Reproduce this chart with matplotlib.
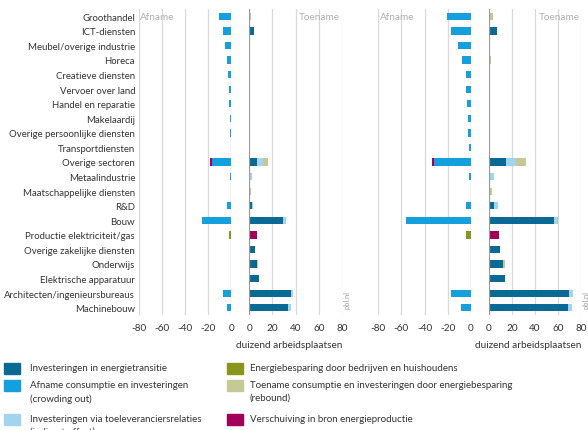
import matplotlib
matplotlib.use("Agg")
import matplotlib.pyplot as plt
from matplotlib.patches import Rectangle
import numpy as np

plt.rcParams['font.family'] = ['Lato', 'DejaVu Sans']

categories = ["Groothandel", "ICT-diensten", "Meubel/overige industrie", "Horeca",
              "Creatieve diensten", "Vervoer over land", "Handel en reparatie",
              "Makelaardij", "Overige persoonlijke diensten", "Transportdiensten",
              "Overige sectoren", "Metaalindustrie", "Maatschappelijke diensten",
              "R&D", "Bouw", "Productie elektriciteit/gas", "Overige zakelijke diensten",
              "Onderwijs", "Elektrische apparatuur", "Architecten/ingenieursbureaus",
              "Machinebouw"]

# Left panel
left_crowd = [-10.7, -7.5, -5.2, -3.5, -3.2, -2.3, -1.7, -1.2, -1.2, -0.6,
              -17.0, -1.0, 0, -3.8, -25.0, 0, 0, 0, 0, -7.5, -3.8]
left_shift_neg = [0, 0, 0, 0, 0, 0, 0, 0, 0, 0, -1.0, 0, 0, 0, 0, 0, 0, 0, 0, 0, 0]
left_saving = [0, 0, 0, 0, 0, 0, 0, 0, 0, 0, 0, 0, 0, 0, 0, -2.0, 0, 0, 0, 0, 0]
left_invest = [0, 3.8, 0, 0, 0, 0, 0, 0, 0, 0, 6.4, 0, 0, 2.3, 29.0, 0, 5.2, 6.4, 8.1, 36.0, 33.6]
left_indirect = [0, 0, 0, 0, 0, 0, 0, 0, 0, 0, 5.8, 2.3, 0, 0.9, 2.6, 0, 0, 0, 0, 1.4, 2.3]
left_rebound = [1.5, 0, 0, 0.5, 0, 0, 0.5, 0, 0, 0, 3.8, 0, 1.2, 0, 0, 0, 0, 1.2, 0, 0, 0]
left_shift_pos = [0, 0, 0, 0, 0, 0, 0, 0, 0, 0, 0, 0, 0, 0, 0, 6.7, 0, 0, 0, 0, 0]

# Right panel
right_crowd = [-20.7, -17.3, -10.6, -7.5, -4.3, -4.0, -3.5, -2.3, -2.6, -1.4,
               -32.2, -1.4, 0, -3.7, -56.0, 0, 0, 0, 0, -17.0, -8.3]
right_shift_neg = [0, 0, 0, 0, 0, 0, 0, 0, 0, 0, -1.2, 0, 0, 0, 0, 0, 0, 0, 0, 0, 0]
right_saving = [0, 0, 0, 0, 0, 0, 0, 0, 0, 0, 0, 0, 0, 0, 0, -3.7, 0, 0, 0, 0, 0]
right_invest = [0, 7.2, 0, 0, 0, 0, 0, 0, 0, 0, 15.0, 0, 0, 4.9, 56.4, 0, 10.0, 12.0, 14.4, 69.6, 68.5]
right_indirect = [0, 0, 0, 0, 0, 0, 0, 0, 0, 0, 8.3, 4.9, 0, 2.9, 2.3, 0, 0, 0, 0, 2.9, 3.5]
right_rebound = [4.0, 0, 0, 2.3, 0, 0, 1.0, 0, 0, 0, 8.6, 0, 3.2, 0, 0.9, 0, 0, 2.3, 0, 0, 0]
right_shift_pos = [0, 0, 0, 0, 0, 0, 0, 0, 0, 0, 0, 0, 0, 0, 0, 8.6, 0, 0, 0, 0, 0]

neg_ticks = [-80, -60, -40, -20, 0]
pos_ticks = [0, 20, 40, 60, 80]
xlabel = "duizend arbeidsplaatsen"

legend_labels = ["Investeringen in energietransitie",
                 "Afname consumptie en investeringen\n(crowding out)",
                 "Investeringen via toeleveranciersrelaties\n(indirect effect)",
                 "Energiebesparing door bedrijven en huishoudens",
                 "Toename consumptie en investeringen door energiebesparing\n(rebound)",
                 "Verschuiving in bron energieproductie"]

C_INV = "#0b6a93"
C_CROWD = "#14a0dc"
C_IND = "#a2d4f0"
C_SAV = "#8a951e"
C_REB = "#c6c995"
C_SHIFT = "#a3005c"
legend_colors = [C_INV, C_CROWD, C_IND, C_SAV, C_REB, C_SHIFT]

W, H = 588, 431
fig = plt.figure(figsize=(W / 100, H / 100), dpi=100)

def px_axes(x0, x1, y0, y1):
    return fig.add_axes([x0 / W, 1 - y1 / H, (x1 - x0) / W, (y1 - y0) / H])

TEXT = "#333333"
GRID = "#d9d9d9"
ZERO = "#9a9a9a"
FS = 7.2
FS_LAB = 6.9
FS_LEG = 7.0
y = np.arange(len(categories))
bh = 0.5

def style(ax, lim, ticks):
    ax.set_xlim(*lim)
    ax.set_ylim(len(categories) - 0.5, -0.5)
    ax.set_xticks(ticks)
    ax.set_xticklabels([str(t) for t in ticks], fontsize=FS, color=TEXT)
    ax.tick_params(axis='x', length=0, pad=6)
    ax.set_yticks([])
    for s in ax.spines.values():
        s.set_visible(False)
    for t in ticks:
        if t == 0:
            ax.axvline(0, color=ZERO, lw=0.9, zorder=3)
        else:
            ax.axvline(t, color=GRID, lw=0.9, zorder=0)

def draw_panel(xn0, xn1, xp0, xp1, crowd, shift_neg, saving, invest, indirect, rebound, shift_pos, show_labels):
    axn = px_axes(xn0, xn1, 10, 316)
    axp = px_axes(xp0, xp1, 10, 316)
    style(axn, (-80, 0), neg_ticks)
    style(axp, (0, 80), pos_ticks)
    crowd = np.array(crowd); shift_neg = np.array(shift_neg); saving = np.array(saving)
    axn.barh(y, crowd, height=bh, color=C_CROWD, zorder=2)
    axn.barh(y, shift_neg, left=crowd, height=bh, color=C_SHIFT, zorder=2)
    axn.barh(y, saving, left=crowd + shift_neg, height=bh, color=C_SAV, zorder=2)
    invest = np.array(invest); indirect = np.array(indirect); rebound = np.array(rebound)
    axp.barh(y, invest, height=bh, color=C_INV, zorder=2)
    axp.barh(y, indirect, left=invest, height=bh, color=C_IND, zorder=2)
    axp.barh(y, rebound, left=invest + indirect, height=bh, color=C_REB, zorder=2)
    axp.barh(y, shift_pos, left=invest + indirect + rebound, height=bh, color=C_SHIFT, zorder=2)
    axn.text(0.02, 0, "Afname", transform=axn.get_yaxis_transform(), ha='left', va='center',
             fontsize=FS, color="#b0b0b0")
    axp.text(0.98, 0, "Toename", transform=axp.get_yaxis_transform(), ha='right', va='center',
             fontsize=FS, color="#b0b0b0")
    if show_labels:
        axn.set_yticks(y)
        axn.set_yticklabels(categories, fontsize=FS_LAB, color=TEXT)
        axn.tick_params(axis='y', length=0, pad=2.5)
    fig.text(xp1 / W, 1 - 346 / H, xlabel, ha='right', va='center', fontsize=FS, color=TEXT)

draw_panel(138.5, 231.3, 249.3, 342, left_crowd, left_shift_neg, left_saving, left_invest,
           left_indirect, left_rebound, left_shift_pos, True)
draw_panel(378.3, 470.7, 488.7, 581.3, right_crowd, right_shift_neg, right_saving, right_invest,
           right_indirect, right_rebound, right_shift_pos, False)

fig.text(347 / W, 1 - 300 / H, "pbl.nl", rotation=90, ha='center', va='center', fontsize=5.5, color="#a0a0a0")
fig.text(586 / W, 1 - 300 / H, "pbl.nl", rotation=90, ha='center', va='center', fontsize=5.5, color="#a0a0a0")

# Legend
leg_pos = [(4, 364, 30, 369.5), (4, 381, 30, 386.5), (4, 415, 30, 420.5),
           (227, 364, 250, 369.5), (227, 381, 250, 386.5), (227, 415, 250, 420.5)]
for (sx, sy, tx, ty), lab, col in zip(leg_pos, legend_labels, legend_colors):
    fig.patches.append(Rectangle((sx / W, 1 - (sy + 11) / H), 16 / W, 11 / H,
                                 transform=fig.transFigure, color=col, figure=fig))
    fig.text(tx / W, 1 - (ty - 5.5) / H, lab, ha='left', va='top', fontsize=FS_LEG, color=TEXT,
             linespacing=1.55)

fig.savefig("out.png", dpi=100)
